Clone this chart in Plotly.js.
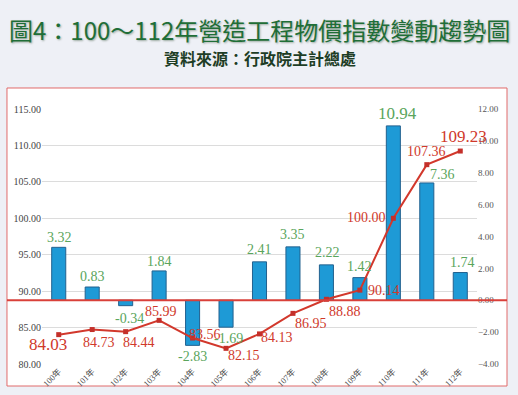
<!DOCTYPE html>
<html>
<head>
<meta charset="utf-8">
<script src="https://cdn.plot.ly/plotly-3.0.1.min.js"></script>
<style>
  html, body { margin: 0; padding: 0; background: #eef0f6; }
  #chart { width: 518px; height: 395px; }
</style>
</head>
<body>
<div id="chart"></div>
<script>
// ---- data ----
const years = ['100年','101年','102年','103年','104年','105年','106年','107年','108年','109年','110年','111年','112年'];
const indexValues = [84.03, 84.73, 84.44, 85.99, 83.56, 82.15, 84.13, 86.95, 88.88, 90.14, 100.00, 107.36, 109.23];
const changeRates = [3.32, 0.83, -0.34, 1.84, -2.83, -1.69, 2.41, 3.35, 2.22, 1.42, 10.94, 7.36, 1.74];
const leftTicks = [80, 85, 90, 95, 100, 105, 110, 115];
const rightTicks = [-4, -2, 0, 2, 4, 6, 8, 10, 12];
const titleText = '圖4：100～112年營造工程物價指數變動趨勢圖';
const subtitleText = '資料來源：行政院主計總處';

// ---- label styling (pixel offsets of label centres from their marks, font sizes) ----
const lineLabelOffset = [[-11,10],[7,12.5],[13,10.5],[2,-8.5],[12,-3.5],[18,7],[17.5,4],[18,10.5],[19,12.5],[24,0],[-27,-1],[0,-13],[3,-15]];
const lineLabelSize = [17,14,14,14,14,14,14,14,14,14,14,14,17];
const barLabelOffset = [[1,-10],[0,-11],[4,13],[0,-9],[0,11],[2,11],[0,-12],[0,-12],[1,-12],[0,-11],[4.5,-12],[16,-8.5],[2,-10.5]];
const barLabelSize = [14,14,14,14,14,14,14,14,14,14,17,14,14];

const numFont = 'Liberation Serif, DejaVu Serif, serif';
const cjkSerif = 'Liberation Serif, Noto Sans CJK TC, serif';

const traces = [
  {
    type: 'bar',
    x: years,
    y: changeRates,
    yaxis: 'y',
    marker: { color: '#1e9ad6', line: { color: '#22618f', width: 1 } },
    hoverinfo: 'skip'
  },
  {
    type: 'scatter',
    mode: 'lines+markers',
    x: years,
    y: indexValues,
    yaxis: 'y2',
    line: { color: '#d2382c', width: 2 },
    marker: { symbol: 'square', size: 5, color: '#c4302a' },
    hoverinfo: 'skip'
  }
];

const annotations = [];
annotations.push({
  xref: 'paper', yref: 'paper', x: 0.5, y: 1.310, xanchor: 'center', yanchor: 'middle',
  showarrow: false, text: titleText, borderpad: 0,
  font: { family: 'Noto Sans CJK TC, sans-serif', size: 24, color: '#1f6e37', shadow: '1px 1px 2px rgba(0,40,0,0.35)' }
});
annotations.push({
  xref: 'paper', yref: 'paper', x: 0.5, y: 1.200, xanchor: 'center', yanchor: 'middle',
  showarrow: false, text: '<b>' + subtitleText + '</b>', borderpad: 0,
  font: { family: 'Noto Sans CJK TC, sans-serif', size: 16, color: '#1d3d25' }
});
indexValues.forEach((v, i) => {
  annotations.push({
    xref: 'x', yref: 'y2', x: years[i], y: v, showarrow: false,
    xanchor: 'center', yanchor: 'middle',
    xshift: lineLabelOffset[i][0], yshift: -lineLabelOffset[i][1],
    text: v.toFixed(2),
    font: { family: numFont, size: lineLabelSize[i], color: '#d0392b' }
  });
});
changeRates.forEach((v, i) => {
  annotations.push({
    xref: 'x', yref: 'y', x: years[i], y: v, showarrow: false,
    xanchor: 'center', yanchor: 'middle',
    xshift: barLabelOffset[i][0], yshift: -barLabelOffset[i][1],
    text: v.toFixed(2),
    font: { family: numFont, size: barLabelSize[i], color: '#5aa55c' }
  });
});

const layout = {
  width: 518,
  height: 395,
  margin: { l: 42, r: 41, t: 109, b: 31, pad: 0 },
  paper_bgcolor: '#eef0f6',
  plot_bgcolor: 'rgba(0,0,0,0)',
  showlegend: false,
  bargap: 0.58,
  xaxis: {
    type: 'category',
    range: [-0.5, 12.5],
    tickangle: -45,
    showgrid: false,
    zeroline: false,
    showline: false,
    ticks: '',
    tickfont: { family: cjkSerif, size: 8.5, color: '#444' }
  },
  yaxis: {
    side: 'right',
    range: [-4, 12],
    tickvals: rightTicks,
    tickformat: '.2f',
    showgrid: false,
    zeroline: false,
    showline: false,
    ticks: '',
    tickfont: { family: numFont, size: 9, color: '#555' }
  },
  yaxis2: {
    side: 'left',
    overlaying: 'y',
    range: [80, 115],
    tickvals: leftTicks,
    tickformat: '.2f',
    showgrid: true,
    gridcolor: '#dcdcdc',
    gridwidth: 1,
    zeroline: false,
    showline: false,
    ticks: '',
    tickfont: { family: numFont, size: 10, color: '#444' }
  },
  shapes: [
    {
      type: 'rect', xref: 'paper', yref: 'paper',
      x0: -0.0805, x1: 1.069, y0: -0.0863, y1: 1.0824,
      fillcolor: '#ffffff', line: { color: '#e06a6a', width: 1 }, layer: 'below'
    },
    {
      type: 'line', xref: 'paper', yref: 'y',
      x0: -0.0805, x1: 1.069, y0: 0, y1: 0,
      line: { color: '#d9403a', width: 2 }, layer: 'above'
    }
  ],
  annotations: annotations
};

Plotly.newPlot('chart', traces, layout, { displayModeBar: false, staticPlot: true });
</script>
</body>
</html>
